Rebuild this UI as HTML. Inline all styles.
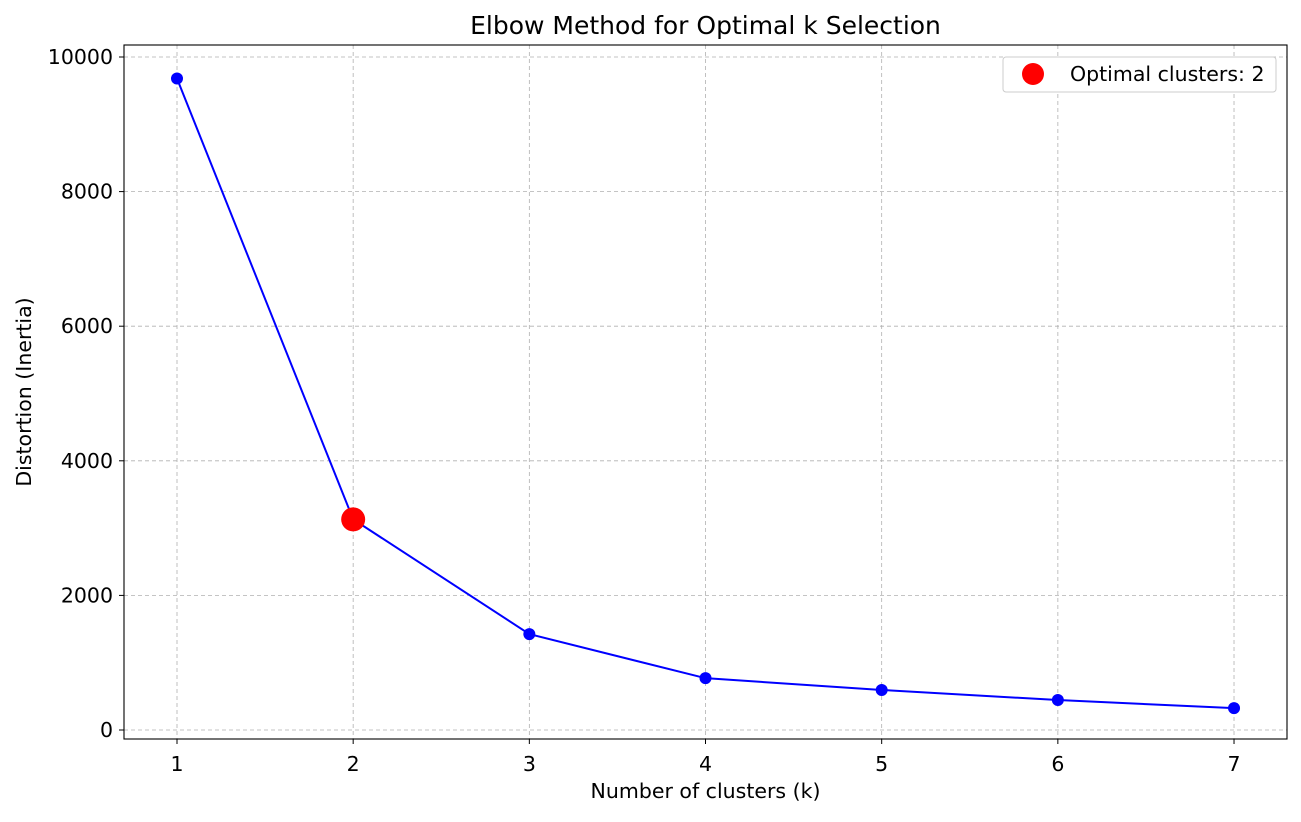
<!DOCTYPE html>
<html><head><meta charset="utf-8"><style>
body{margin:0;background:#fff;font-family:"Liberation Sans","DejaVu Sans",sans-serif;}
svg text{font-family:"DejaVu Sans","Liberation Sans",sans-serif;fill:#000;}
</style></head><body>
<svg id="chart" width="1301" height="817" xmlns="http://www.w3.org/2000/svg">
<rect width="1301" height="817" fill="#fff"/>
<g id="grid"></g>
<g id="series"></g>
<rect x="124" y="45" width="1163" height="694" fill="none" stroke="#000" stroke-width="1.1"/>
<g id="ticks"></g>
<text x="705.5" y="34" font-size="25" text-anchor="middle">Elbow Method for Optimal k Selection</text>
<text x="705.5" y="798" font-size="20.5" text-anchor="middle">Number of clusters (k)</text>
<text x="31" y="392" font-size="20.5" text-anchor="middle" transform="rotate(-90 31 392)">Distortion (Inertia)</text>
<g>
<rect x="1003" y="57" width="273" height="35" rx="3" fill="#fff" stroke="#ccc"/>
<circle cx="1033" cy="74" r="11" fill="#ff0000"/>
<text x="1070" y="81" font-size="20.5">Optimal clusters: 2</text>
</g>
</svg>
<script>
const ks=[1,2,3,4,5,6,7];
const inertia=[9680,3130,1425,770,595,445,325];
const yTicks=[0,2000,4000,6000,8000,10000];
const optimalK=2;
const ns="http://www.w3.org/2000/svg";
function xs(k){return 177+(k-1)*176.17;}
function ys(v){return 730-v*0.0673;}
function mk(t,a,p){const e=document.createElementNS(ns,t);for(const k in a)e.setAttribute(k,a[k]);p.appendChild(e);return e;}
const grid=document.getElementById('grid'),ticks=document.getElementById('ticks'),ser=document.getElementById('series');
ks.forEach(k=>{
 const g=mk('line',{x1:xs(k),x2:xs(k),y1:45,y2:739,stroke:'#b0b0b0','stroke-dasharray':'4,3','stroke-width':0.8},grid);
 
 
 const t=mk('line',{x1:xs(k),x2:xs(k),y1:739,y2:744,stroke:'#000'},ticks);
 
 
 const l=mk('text',{x:xs(k),y:771,'font-size':20.5,'text-anchor':'middle'},ticks);l.textContent=k;
 
 
});
yTicks.forEach(v=>{
 const g=mk('line',{x1:124,x2:1287,y1:ys(v),y2:ys(v),stroke:'#b0b0b0','stroke-dasharray':'4,3','stroke-width':0.8},grid);
 
 
 const t=mk('line',{x1:119,x2:124,y1:ys(v),y2:ys(v),stroke:'#000'},ticks);
 
 
 const l=mk('text',{x:113,y:ys(v)+7,'font-size':20.5,'text-anchor':'end'},ticks);l.textContent=v;
 
 
});
const pl=mk('polyline',{points:ks.map((k,i)=>xs(k)+','+ys(inertia[i])).join(' '),fill:'none',stroke:'#0000ff','stroke-width':2},ser);


ks.forEach((k,i)=>{
 const c=mk('circle',{cx:xs(k),cy:ys(inertia[i]),r:6,fill:'#0000ff'},ser);
 
 
});
const oi=ks.indexOf(optimalK);
const oc=mk('circle',{cx:xs(optimalK),cy:ys(inertia[oi]),r:12,fill:'#ff0000'},ser);


</script>
</body></html>
